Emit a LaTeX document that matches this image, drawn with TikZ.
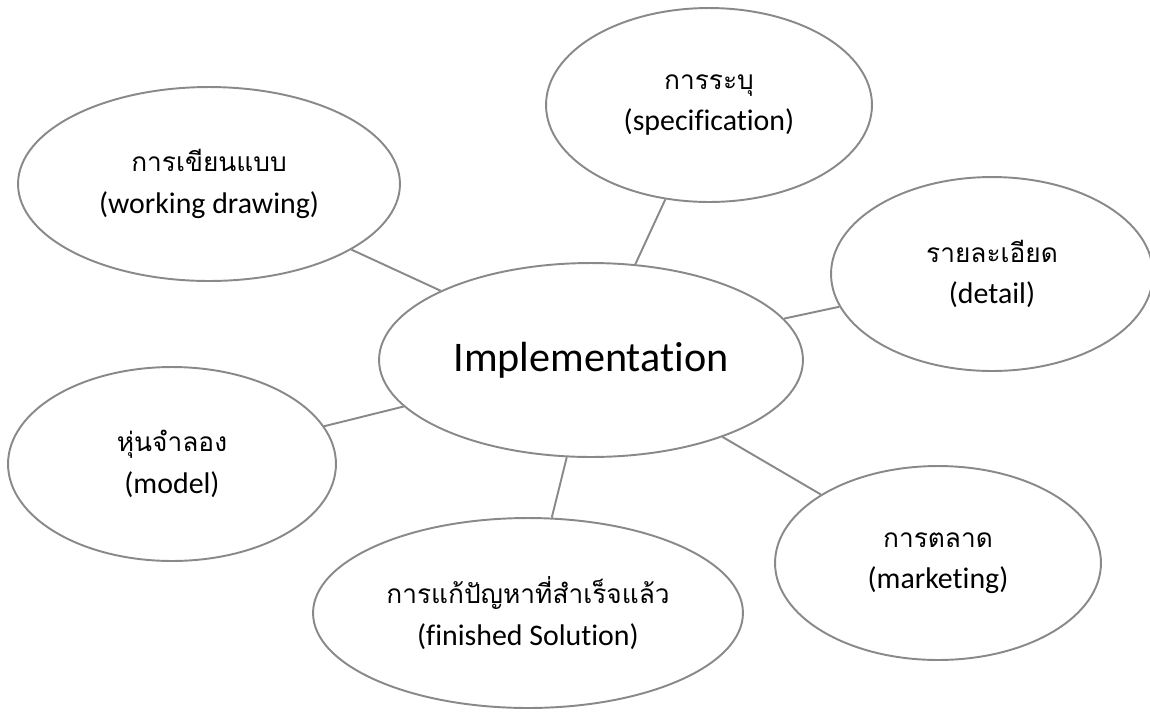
\documentclass[tikz,border=0pt]{standalone}
\usepackage{fontspec}
\setmainfont{Carlito}[Ligatures=NoCommon]
\newfontfamily\thaifont[Script=Thai,Scale=0.88]{Loma}
\usetikzlibrary{shapes.geometric}
\definecolor{linegray}{RGB}{137,137,137}

\tikzstyle{bubble} = [ellipse,draw=linegray,line width=1.1pt,inner sep=0pt,align=center,font=\fontsize{17}{23.5}\selectfont]
\tikzstyle{link} = [draw=linegray,line width=1.1pt]

\begin{document}
\begin{tikzpicture}[x=0.02cm,y=-0.02cm]
	\useasboundingbox (0,0) rectangle (1150,711);
	\node[bubble,minimum width=8.48cm,minimum height=3.88cm,font=\fontsize{24}{28}\selectfont] (impl) at (591,360) {Implementation};
	\node[bubble,minimum width=6.52cm,minimum height=3.88cm] (spec) at (709,105) {{\thaifont การระบุ}\\(specification)};
	\node[bubble,minimum width=7.64cm,minimum height=3.88cm] (drawing) at (209,184) {{\thaifont การเขียนแบบ}\\(working drawing)};
	\node[bubble,minimum width=6.44cm,minimum height=3.88cm] (detail) at (992,274) {{\thaifont รายละเอียด}\\(detail)};
	\node[bubble,minimum width=6.56cm,minimum height=3.88cm] (model) at (172,464) {{\thaifont หุ่นจำลอง}\\(model)};
	\node[bubble,minimum width=8.6cm,minimum height=3.8cm] (solution) at (528,613) {{\thaifont การแก้ปัญหาที่สำเร็จแล้ว}\\(finished Solution)};
	\node[bubble,minimum width=6.52cm,minimum height=3.88cm] (market) at (938,563) {{\thaifont การตลาด}\\(marketing)};
	\draw[link] (impl) -- (spec);
	\draw[link] (impl) -- (drawing);
	\draw[link] (impl) -- (detail);
	\draw[link] (impl) -- (model);
	\draw[link] (impl) -- (solution);
	\draw[link] (impl) -- (market);
\end{tikzpicture}
\end{document}
